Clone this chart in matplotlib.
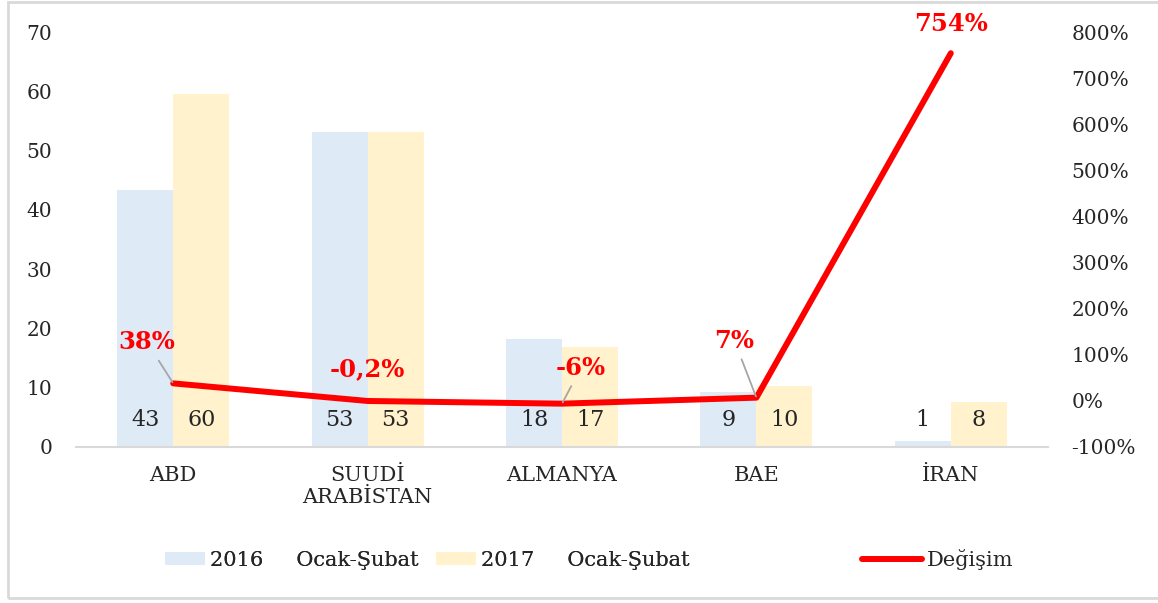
import matplotlib
matplotlib.use("Agg")
import matplotlib.pyplot as plt
from matplotlib.patches import Rectangle, Patch
from matplotlib.lines import Line2D
import numpy as np

categories = ["ABD", "SUUDİ\nARABİSTAN", "ALMANYA", "BAE", "İRAN"]
values_2016 = [43.3, 53.2, 18.3, 9.3, 1.0]
values_2017 = [59.6, 53.1, 16.9, 10.3, 7.6]
change_pct = [38, -0.2, -6, 7, 754]
change_labels = ["38%", "-0,2%", "-6%", "7%", "754%"]
left_ticks = [0, 10, 20, 30, 40, 50, 60, 70]
right_ticks = [-100, 0, 100, 200, 300, 400, 500, 600, 700, 800]
legend_labels = ["2016     Ocak-Şubat", "2017     Ocak-Şubat", "Değişim"]

C_BLUE = "#DEEAF6"
C_YEL = "#FFF2CC"
C_RED = "#FF0000"
C_GRAY = "#D9D9D9"
FONT = "DejaVu Serif"
plt.rcParams["font.family"] = FONT

W, H = 1158, 603
fig = plt.figure(figsize=(W / 100, H / 100), dpi=100)

# outer border
fig.patches.append(Rectangle((8 / W, 1 - 598 / H), (W + 5 - 8) / W, (598 - 2) / H,
                             transform=fig.transFigure, fill=False,
                             edgecolor=C_GRAY, linewidth=2))

x0, x1 = 76, 1048
ytop, ybot = 32, 447
ax = fig.add_axes([x0 / W, 1 - ybot / H, (x1 - x0) / W, (ybot - ytop) / H])
ax2 = ax.twinx()

x = np.arange(len(categories))
bw = 0.288
ax.bar(x - bw / 2, values_2016, bw, color=C_BLUE, zorder=1)
ax.bar(x + bw / 2, values_2017, bw, color=C_YEL, zorder=1)
for i in range(len(categories)):
    ax.text(x[i] - bw / 2, 4.5, f"{round(values_2016[i])}", ha="center", va="center",
            fontsize=16, color="#262626")
    ax.text(x[i] + bw / 2, 4.5, f"{round(values_2017[i])}", ha="center", va="center",
            fontsize=16, color="#262626")

ax.set_xlim(-0.5, len(categories) - 0.5)
ax.set_ylim(0, 70)
ax.set_yticks(left_ticks)
ax.set_xticks(x)
ax.set_xticklabels(categories, fontsize=15, color="#262626", linespacing=1.2)
ax.tick_params(axis="x", length=0, pad=14)
ax.tick_params(axis="y", length=0, pad=17, labelsize=14.5, labelcolor="#262626")

ax2.set_ylim(-100, 800)
ax2.set_yticks(right_ticks)
ax2.set_yticklabels([f"{t}%" for t in right_ticks])
ax2.tick_params(axis="y", length=0, pad=17, labelsize=14.5, labelcolor="#262626")
ax2.plot(x, change_pct, color=C_RED, linewidth=4.3, solid_capstyle="round",
         solid_joinstyle="round", zorder=3)

for a in (ax, ax2):
    for s in ("top", "left", "right"):
        a.spines[s].set_visible(False)
    a.spines["bottom"].set_color(C_GRAY)
    a.spines["bottom"].set_linewidth(1.5)
ax2.spines["bottom"].set_visible(False)

# percent labels (offsets in pixels), leader lines where present
offsets = [(-26, 41), (0, 32), (19, 36), (-22, 57), (0, 29)]
leaders = [True, False, True, True, False]
for i in range(len(categories)):
    ap = None
    if leaders[i]:
        ap = dict(arrowstyle="-", color="#A6A6A6", lw=1.3, shrinkA=3, shrinkB=1)
    ax2.annotate(change_labels[i], xy=(x[i], change_pct[i]), xytext=offsets[i],
                 textcoords="offset pixels", ha="center", va="center",
                 fontsize=17.5, fontweight="bold", color=C_RED, arrowprops=ap, zorder=4)

# legends
bar_handles = [Patch(facecolor=C_BLUE, edgecolor="none"),
               Patch(facecolor=C_YEL, edgecolor="none")]
leg1 = fig.legend(bar_handles, legend_labels[:2], loc="center left",
                  bbox_to_anchor=(165 / W, 1 - 560 / H), ncol=2, frameon=False,
                  prop={"family": FONT, "size": 15},
                  handlelength=1.92, handleheight=0.6, handletextpad=0.25,
                  columnspacing=0.8, labelcolor="#262626",
                  borderpad=0, borderaxespad=0)
line_handle = [Line2D([], [], color=C_RED, linewidth=4.3, solid_capstyle="round")]
leg2 = fig.legend(line_handle, legend_labels[2:], loc="center left",
                  bbox_to_anchor=(862 / W, 1 - 560 / H), frameon=False,
                  prop={"family": FONT, "size": 15},
                  handlelength=2.9, handletextpad=0.2, labelcolor="#262626",
                  borderpad=0, borderaxespad=0)
fig.add_artist(leg1)

fig.savefig("out.png", dpi=100)
